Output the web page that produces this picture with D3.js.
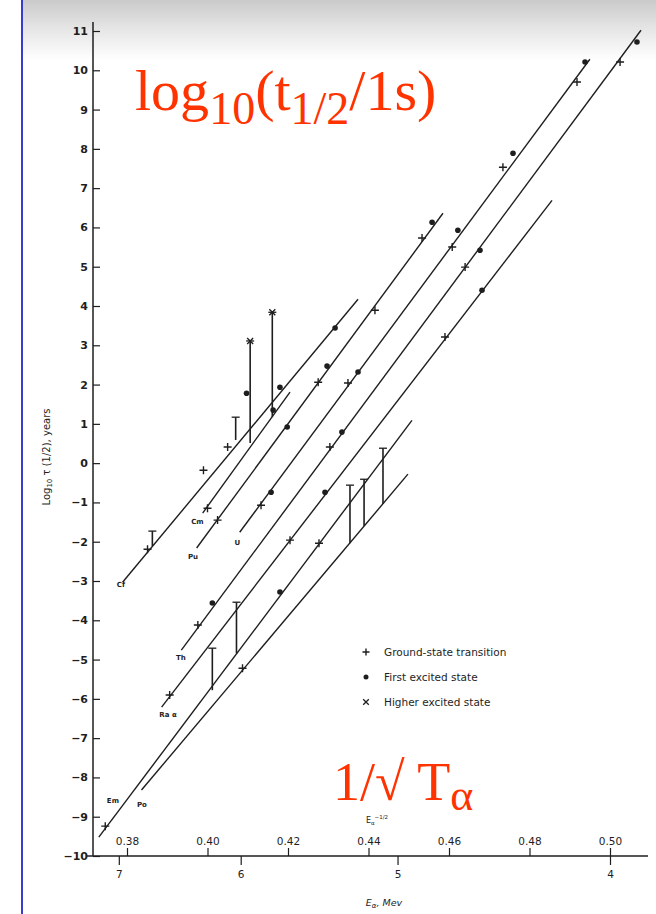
<!DOCTYPE html>
<html><head><meta charset="utf-8">
<script src="https://cdn.jsdelivr.net/npm/d3@7"></script>
<style>body{margin:0;background:#fff}svg{display:block}</style>
</head><body>
<svg id="c" width="656" height="914"></svg>
<script>
// ---------- data (x = E^-1/2, y = log10 half-life in years) ----------
const yTicks = [-10,-9,-8,-7,-6,-5,-4,-3,-2,-1,0,1,2,3,4,5,6,7,8,9,10,11];
const invSqrtTicks = [0.38,0.40,0.42,0.44,0.46,0.48,0.50];
const energyTicks = [7,6,5,4];

const lineNames  = ["Cf","Cm","Pu","U","Th","Ra","Em","Po"];
const lineStartU = [0.3789,0.3988,0.3973,0.4080,0.3935,0.3886,0.3730,0.3836];
const lineStartV = [-3.03,-1.27,-2.16,-1.76,-4.76,-6.21,-9.52,-8.32];
const lineEndU   = [0.4374,0.4205,0.4585,0.4950,0.5077,0.4856,0.4508,0.4498];
const lineEndV   = [4.17,1.81,6.36,10.28,11.02,6.69,1.09,-0.28];

const labelU = [0.3785,0.3975,0.3964,0.4074,0.3934,0.3902,0.3765,0.3837];
const labelV = [-3.08,-1.48,-2.37,-2.01,-4.96,-6.39,-8.60,-8.70];
const labelText = ["Cf","Cm","Pu","U","Th","Ra α","Em","Po"];

const groundU = [0.3851,0.3990,0.4050,0.4000,0.4025,0.4275,0.4416,0.4533,0.4133,0.4349,0.4608,0.4734,0.4918,0.3976,0.4304,0.4640,0.5025,0.3906,0.4205,0.4590,0.3746,0.4277,0.4087];
const groundV = [-2.19,-0.18,0.41,-1.15,-1.45,2.06,3.89,5.73,-1.07,2.04,5.50,7.53,9.70,-4.12,0.41,4.99,10.21,-5.90,-1.96,3.21,-9.24,-2.04,-5.22];

const firstU = [0.4317,0.4198,0.4297,0.4558,0.4374,0.4622,0.4759,0.4938,0.4158,0.4012,0.4334,0.4677,0.5067,0.4292,0.4682,0.4180,0.4097,0.4163,0.4180];
const firstV = [3.44,0.92,2.47,6.13,2.32,5.93,7.89,10.21,-0.74,-3.56,0.79,5.42,10.72,-0.74,4.40,-3.28,1.78,1.35,1.93];

const higherU = [0.4106,0.4161];
const higherV = [3.11,3.84];

// vertical connectors between transitions
const barU   = [0.3863,0.4070,0.4106,0.4161,0.4012,0.4072,0.4354,0.4389,0.4436];
const barLow = [-2.11,0.59,0.51,1.17,-5.78,-4.84,-2.04,-1.60,-1.04];
const barHigh= [-1.73,1.17,3.11,3.84,-4.71,-3.54,-0.56,-0.41,0.38];

const legendItems = ["Ground-state transition","First excited state","Higher excited state"];

// ---------- drawing ----------
const svg = d3.select("#c");
const x = d3.scaleLinear().domain([0.37,0.51]).range([86.75,650.25]);
const y = d3.scaleLinear().domain([-10,11]).range([856,31]);

// scanned-paper grey band at top
const defs = svg.append("defs");
const g1 = defs.append("linearGradient").attr("id","top").attr("x1",0).attr("y1",0).attr("x2",0).attr("y2",1);
g1.append("stop").attr("offset","0%").attr("stop-color","#cacaca");
g1.append("stop").attr("offset","45%").attr("stop-color","#e4e4e4");
g1.append("stop").attr("offset","100%").attr("stop-color","#ffffff");
svg.append("rect").attr("x",22).attr("y",0).attr("width",634).attr("height",60).attr("fill","url(#top)");

// blue left rule
svg.append("line").attr("x1",22).attr("x2",22).attr("y1",0).attr("y2",914)
  .attr("stroke","#3b3bd0").attr("stroke-width",2);

const ink = "#1e1e1e";

// y axis
const yAxis = d3.axisLeft(y).tickValues(yTicks).tickSizeInner(-7).tickSizeOuter(0).tickPadding(5)
  .tickFormat(d => d < 0 ? "\u2212" + Math.abs(d) : d);
const gy = svg.append("g").attr("transform","translate(93,0)").call(yAxis);
gy.select(".domain").remove();
gy.selectAll(".tick line").attr("stroke",ink).attr("stroke-width",1.2);
gy.selectAll(".tick text").attr("font-family","DejaVu Sans").attr("font-weight","bold")
  .attr("font-size",11).attr("fill",ink);
svg.append("line").attr("x1",93).attr("x2",93).attr("y1",22).attr("y2",y(-10))
  .attr("stroke",ink).attr("stroke-width",1.5);

// x axis (two scales)
svg.append("line").attr("x1",87).attr("x2",648).attr("y1",y(-10)).attr("y2",y(-10))
  .attr("stroke",ink).attr("stroke-width",1.3);
const topAxis = d3.axisTop(x).tickValues(invSqrtTicks).tickSizeInner(8).tickSizeOuter(0).tickPadding(3)
  .tickFormat(d3.format(".2f"));
const gt = svg.append("g").attr("transform",`translate(0,${y(-10)})`).call(topAxis);
gt.select(".domain").remove();
gt.selectAll(".tick line").attr("stroke",ink).attr("stroke-width",1.2);
gt.selectAll(".tick text").attr("font-family","DejaVu Sans").attr("font-size",10.5).attr("fill",ink);

const eAxis = d3.axisBottom(x).tickValues(energyTicks.map(e => 1/Math.sqrt(e)))
  .tickSizeInner(9).tickSizeOuter(0).tickPadding(6).tickFormat((d,i) => energyTicks[i]);
const ge = svg.append("g").attr("transform",`translate(0,${y(-10)})`).call(eAxis);
ge.select(".domain").remove();
ge.selectAll(".tick line").attr("stroke",ink).attr("stroke-width",1.2);
ge.selectAll(".tick text").attr("font-family","DejaVu Sans").attr("font-size",10.5).attr("fill",ink);

// axis titles
const ylab = svg.append("text").attr("transform","translate(50,457) rotate(-90)")
  .attr("text-anchor","middle").attr("font-family","DejaVu Sans").attr("font-size",10).attr("fill",ink);
ylab.append("tspan").text("Log");
ylab.append("tspan").attr("font-size",7).attr("dy",2).text("10");
ylab.append("tspan").attr("dy",-2).text(" τ (1/2), years");

const xl1 = svg.append("text").attr("x",377).attr("y",823).attr("text-anchor","middle")
  .attr("font-family","DejaVu Sans").attr("font-size",8).attr("fill",ink);
xl1.append("tspan").text("E");
xl1.append("tspan").attr("font-size",5.5).attr("dy",2).text("α");
xl1.append("tspan").attr("font-size",5.5).attr("dy",-6).text("−1/2");

const xl2 = svg.append("text").attr("x",384).attr("y",906).attr("text-anchor","middle")
  .attr("font-family","DejaVu Sans").attr("font-style","italic").attr("font-size",9.5).attr("fill",ink);
xl2.append("tspan").text("E");
xl2.append("tspan").attr("font-size",7).attr("dy",2).text("α");
xl2.append("tspan").attr("dy",-2).text(", Mev");

// Geiger–Nuttall lines
const lines = lineNames.map((n,i) => ({n, x1:lineStartU[i], y1:lineStartV[i], x2:lineEndU[i], y2:lineEndV[i]}));
svg.append("g").selectAll("line").data(lines).join("line")
  .attr("x1",d=>x(d.x1)).attr("y1",d=>y(d.y1)).attr("x2",d=>x(d.x2)).attr("y2",d=>y(d.y2))
  .attr("stroke",ink).attr("stroke-width",1.4);

// labels of elements
svg.append("g").selectAll("text").data(labelText).join("text")
  .attr("x",(d,i)=>x(labelU[i])).attr("y",(d,i)=>y(labelV[i])).attr("dy","0.35em")
  .attr("text-anchor","middle").attr("font-family","DejaVu Sans").attr("font-weight","bold")
  .attr("font-size",7).attr("fill",ink).text(d=>d);

// vertical connectors
svg.append("g").selectAll("line").data(barU).join("line")
  .attr("x1",d=>x(d)).attr("x2",d=>x(d))
  .attr("y1",(d,i)=>y(barLow[i])).attr("y2",(d,i)=>y(barHigh[i]))
  .attr("stroke",ink).attr("stroke-width",1.6);
svg.append("g").selectAll("line").data(barU).join("line")
  .attr("x1",d=>x(d)-4).attr("x2",d=>x(d)+4)
  .attr("y1",(d,i)=>y(barHigh[i])).attr("y2",(d,i)=>y(barHigh[i]))
  .attr("stroke",ink).attr("stroke-width",1.3);

// markers
const plus = (g, px, py, s) => { g.append("path").attr("d",`M${px-s},${py}H${px+s}M${px},${py-s}V${py+s}`)
  .attr("stroke",ink).attr("stroke-width",1.4).attr("fill","none"); };
const cross = (g, px, py, s) => { g.append("path").attr("d",`M${px-s},${py-s}L${px+s},${py+s}M${px-s},${py+s}L${px+s},${py-s}`)
  .attr("stroke",ink).attr("stroke-width",1.3).attr("fill","none"); };

const gm = svg.append("g");
groundU.forEach((u,i) => plus(gm, x(u), y(groundV[i]), 4));
gm.selectAll("circle").data(firstU).join("circle")
  .attr("cx",d=>x(d)).attr("cy",(d,i)=>y(firstV[i])).attr("r",2.8).attr("fill",ink);
higherU.forEach((u,i) => cross(gm, x(u), y(higherV[i]), 3));

// legend
const lg = svg.append("g").attr("transform","translate(366,652)");
legendItems.forEach((t,i) => {
  const yy = i*25;
  if (i===0) plus(lg,0,yy,3.5);
  if (i===1) lg.append("circle").attr("cx",0).attr("cy",yy).attr("r",2.5).attr("fill",ink);
  if (i===2) cross(lg,0,yy,2.8);
  lg.append("text").attr("x",18).attr("y",yy).attr("dy","0.35em").attr("font-family","DejaVu Sans")
    .attr("font-size",10.5).attr("fill",ink).text(t);
});

// red annotations
const red = "#ff3300";
const t1 = svg.append("text").attr("x",135).attr("y",110).attr("font-family","Liberation Serif")
  .attr("font-size",58).attr("fill",red);
t1.append("tspan").text("log");
t1.append("tspan").attr("font-size",46).attr("dy",14).text("10");
t1.append("tspan").attr("dy",-14).text("(t");
t1.append("tspan").attr("font-size",46).attr("dy",14).text("1/2");
t1.append("tspan").attr("dy",-14).text("/1s)");

const t2 = svg.append("text").attr("x",333).attr("y",800).attr("font-family","Liberation Serif")
  .attr("font-size",54).attr("fill",red);
t2.append("tspan").text("1/\u221A T");
t2.append("tspan").attr("font-size",44).attr("dy",10).text("α");
</script>
</body></html>
